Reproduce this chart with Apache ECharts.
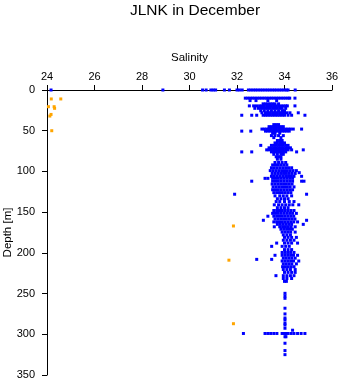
<!DOCTYPE html>
<html><head><meta charset="utf-8">
<script src="https://cdn.jsdelivr.net/npm/echarts@6/dist/echarts.min.js"></script>
<style>html,body{margin:0;padding:0;background:#fff}#c{width:341px;height:384px}</style>
</head><body><div id="c"></div>
<script>
// Each row: [depth, salinity1, salinity2, ...]
const surfaceRows = [
  [0, 24.17, 28.88, 30.55, 30.7, 30.9, 31.0, 31.1, 31.47, 31.68, 32.0, 32.1, 32.22, 32.48, 32.58, 32.68, 32.78, 32.88, 32.98, 33.08, 33.18, 33.28, 33.38, 33.48, 33.58, 33.68, 33.78, 33.88, 33.98, 34.08, 34.15, 34.45],
  [10, 32.35, 32.45, 32.55, 32.65, 32.75, 32.85, 32.95, 33.05, 33.15, 33.25, 33.35, 33.45, 33.55, 33.65, 33.75, 33.85, 33.95, 34.05, 34.15, 34.22, 34.44],
  [13, 32.55, 32.8, 33.3, 33.67],
  [17, 33.1, 33.2, 33.3, 33.4, 33.5, 33.6, 33.75],
  [19.5, 32.52, 32.7, 32.82, 32.95, 33.05, 33.15, 33.25, 33.35, 33.45, 33.55, 33.65, 33.75, 33.85, 33.95, 34.05, 34.12, 34.44],
  [22.5, 32.75, 32.9, 33.0, 33.1, 33.2, 33.3, 33.4, 33.5, 33.6, 33.7, 33.8, 33.9, 34.05],
  [25.5, 33.0, 33.15, 33.3, 33.45, 33.6, 33.75, 33.9, 34.0],
  [28, 33.05, 33.2, 33.3, 33.4, 33.5, 33.6, 33.7, 33.8, 33.9, 34.0, 34.1, 34.23, 34.58],
  [31, 32.2, 32.62, 32.83, 33.1, 33.2, 33.3, 33.4, 33.5, 33.6, 33.7, 33.8, 33.9, 34.0, 34.15, 34.3, 34.86]
];
const upperRows = [
  [42.5, 33.55, 33.65, 33.75],
  [45, 33.35, 33.45, 33.55, 33.65, 33.75, 33.85, 33.95],
  [48, 33.05, 33.15, 33.25, 33.35, 33.45, 33.55, 33.65, 33.75, 33.85, 33.95, 34.05, 34.15, 34.25, 34.37, 34.72],
  [50.5, 32.2, 32.58, 33.2, 33.3, 33.4, 33.5, 33.6, 33.7, 33.8, 33.9, 34.0, 34.1, 34.2],
  [53, 33.5, 33.6, 33.8],
  [56, 33.45, 33.6, 33.75, 33.95],
  [58.5, 33.55, 33.85],
  [62, 33.7, 33.8, 33.9],
  [65, 33.6, 33.7, 33.8, 33.9, 34.0],
  [68, 33.0, 33.45, 33.55, 33.65, 33.75, 33.85, 33.95, 34.05, 34.15],
  [71, 33.35, 33.45, 33.55, 33.65, 33.75, 33.85, 33.95, 34.05, 34.15, 34.25],
  [73.5, 33.25, 33.35, 33.45, 33.55, 33.65, 33.75, 33.85, 33.95, 34.05, 34.15, 34.3, 34.79],
  [76, 32.2, 32.62, 33.45, 33.55, 33.65, 33.75, 33.85, 33.95, 34.05, 34.51],
  [79, 33.55, 33.7, 33.85, 33.95],
  [82, 33.65, 33.75, 33.85],
  [85, 33.7, 33.85]
];
const midRows = [
  [89, 33.6, 33.75, 33.9, 34.05],
  [92, 33.5, 33.62, 33.74, 33.86, 33.98, 34.1],
  [95.5, 33.45, 33.57, 33.69, 33.81, 33.93, 34.05, 34.17, 34.3],
  [99, 33.4, 33.52, 33.64, 33.76, 33.88, 34.0, 34.12, 34.24, 34.36, 34.5],
  [101.5, 34.62],
  [102.5, 33.48, 33.6, 33.72, 33.84, 33.96, 34.08, 34.2, 34.32, 34.45],
  [106, 33.45, 33.57, 33.69, 33.81, 33.93, 34.05, 34.17, 34.29, 34.4, 34.72],
  [108.5, 33.18, 33.3, 33.5, 33.62, 33.74, 33.86, 33.98, 34.1, 34.22, 34.34],
  [112, 32.62, 33.5, 33.62, 33.74, 33.86, 33.98, 34.1, 34.22, 34.34, 34.72, 34.82],
  [115.5, 33.48, 33.6, 33.72, 33.84, 33.96, 34.08, 34.2, 34.32],
  [119, 33.52, 33.64, 33.76, 33.88, 34.0, 34.12, 34.24, 34.4],
  [122.5, 33.5, 33.62, 33.74, 33.86, 33.98, 34.1, 34.22, 34.34],
  [126, 33.55, 33.67, 33.79, 33.91, 34.03, 34.15, 34.27],
  [128, 31.9, 34.93],
  [130, 33.6, 33.8, 33.95, 34.1, 34.3],
  [133.5, 33.7, 33.85, 34.0, 34.15],
  [137, 33.65, 33.8, 34.0, 34.2, 34.4],
  [141, 33.57, 33.75, 33.9, 34.05, 34.2, 34.35, 34.6],
  [144.5, 33.7, 33.85, 34.0, 34.15],
  [148, 33.55, 33.67, 33.79, 33.91, 34.03, 34.15, 34.27, 34.4],
  [151.5, 33.5, 33.62, 33.74, 33.86, 33.98, 34.1, 34.22, 34.34, 34.5],
  [155, 33.3, 33.55, 33.67, 33.79, 33.91, 34.03, 34.15, 34.27, 34.39],
  [158.5, 33.6, 33.72, 33.84, 33.96, 34.08, 34.2, 34.32, 34.44],
  [160, 33.11, 34.93],
  [162, 33.55, 33.67, 33.79, 33.91, 34.03, 34.15, 34.27, 34.39, 34.55],
  [165, 33.7, 33.82, 33.94, 34.06, 34.18, 34.3, 34.79],
  [168, 33.57, 33.8, 33.92, 34.04, 34.16, 34.28, 34.45],
  [171, 33.85, 33.97, 34.09, 34.21, 34.33],
  [174.5, 33.9, 34.02, 34.14, 34.26, 34.45],
  [178, 33.95, 34.1, 34.25]
];
const deepRows = [
  [181, 34.0, 34.15, 34.3, 34.5],
  [184.5, 33.95, 34.1, 34.25, 34.4],
  [188, 33.67, 34.0, 34.15, 34.3, 34.55],
  [192, 33.46, 33.9, 34.05, 34.2],
  [196, 34.0, 34.15, 34.3],
  [199.5, 33.9, 34.02, 34.14, 34.26, 34.4],
  [203, 33.6, 33.9, 34.02, 34.14, 34.26, 34.38, 34.55],
  [206.5, 33.95, 34.07, 34.19, 34.31, 34.45],
  [208, 32.83, 33.46],
  [210, 33.9, 34.02, 34.14, 34.26, 34.38, 34.6],
  [213.5, 33.95, 34.07, 34.19, 34.31, 34.5],
  [217, 33.92, 34.04, 34.16, 34.28, 34.4],
  [220.5, 33.95, 34.1, 34.25, 34.45],
  [224, 34.0, 34.15, 34.3, 34.45],
  [228, 33.64, 33.95, 34.1, 34.25, 34.4],
  [231.5, 33.95, 34.1, 34.3],
  [235, 34.0, 34.08],
  [249.7, 34.02], [253, 34.02], [255.8, 34.02], [268, 34.02], [275, 34.02],
  [280, 34.02], [282.5, 34.02], [286.5, 34.02], [288.6, 34.02], [292.6, 34.02],
  [295, 34.34],
  [299, 32.27, 33.18, 33.3, 33.42, 33.55, 33.68, 33.9, 34.0, 34.05, 34.15, 34.28, 34.4, 34.55, 34.7, 34.86],
  [303, 34.02, 34.06],
  [311, 34.02], [320, 34.02], [325, 34.02]
];
// orange observations: [salinity, depth]
const orangeObs = [
  [24.18, 11], [24.58, 11], [24.06, 20.5], [24.3, 20.5], [24.32, 22.5],
  [24.17, 30], [24.12, 32], [24.2, 50],
  [31.85, 167], [31.66, 209], [31.85, 287]
];
const xTicks = [24, 26, 28, 30, 32, 34, 36];
const yTicks = [0, 50, 100, 150, 200, 250, 300, 350];

function rowsToPairs(rows) {
  const out = [];
  rows.forEach(r => { for (let i = 1; i < r.length; i++) out.push([r[i], r[0]]); });
  return out;
}
const blueObs = rowsToPairs(surfaceRows).concat(rowsToPairs(upperRows), rowsToPairs(midRows), rowsToPairs(deepRows));

const font = 'Liberation Sans, Arial, Helvetica, sans-serif';
const chart = echarts.init(document.getElementById('c'), null, {renderer: 'canvas'});
chart.setOption({
  animation: false,
  backgroundColor: '#ffffff',
  title: {
    text: 'JLNK in December', left: 190, top: -2, textAlign: 'center',
    textStyle: {fontFamily: font, fontSize: 15.5, fontWeight: 'normal', color: '#000'}
  },
  grid: {left: 47, right: 9, top: 90, bottom: 9, containLabel: false, outerBoundsMode: 'none'},
  xAxis: {
    type: 'value', position: 'top', min: xTicks[0], max: xTicks[xTicks.length - 1], interval: 2,
    name: 'Salinity', nameLocation: 'middle', nameGap: 26, nameMoveOverlap: false,
    nameTextStyle: {fontFamily: font, fontSize: 11.5, color: '#000'},
    axisLine: {show: true, lineStyle: {color: '#000', width: 1}},
    axisTick: {show: true, length: 5, lineStyle: {color: '#000'}},
    axisLabel: {fontFamily: font, fontSize: 11, color: '#000', margin: 8},
    splitLine: {show: false}
  },
  yAxis: {
    type: 'value', inverse: true, min: yTicks[0], max: yTicks[yTicks.length - 1], interval: 50,
    name: 'Depth [m]', nameLocation: 'middle', nameGap: 33, nameRotate: 90, nameMoveOverlap: false,
    nameTextStyle: {fontFamily: font, fontSize: 11.5, color: '#000'},
    axisLine: {show: true, lineStyle: {color: '#000', width: 1}},
    axisTick: {show: true, length: 5, lineStyle: {color: '#000'}},
    axisLabel: {fontFamily: font, fontSize: 11, color: '#000', margin: 12},
    splitLine: {show: false}
  },
  series: [
    {type: 'scatter', data: blueObs, symbol: 'rect', symbolSize: 3, clip: false,
     itemStyle: {color: '#0000ff', opacity: 1}},
    {type: 'scatter', data: orangeObs, symbol: 'rect', symbolSize: 3, clip: false,
     itemStyle: {color: '#ffa500', opacity: 1}}
  ]
});
</script>
</body></html>
